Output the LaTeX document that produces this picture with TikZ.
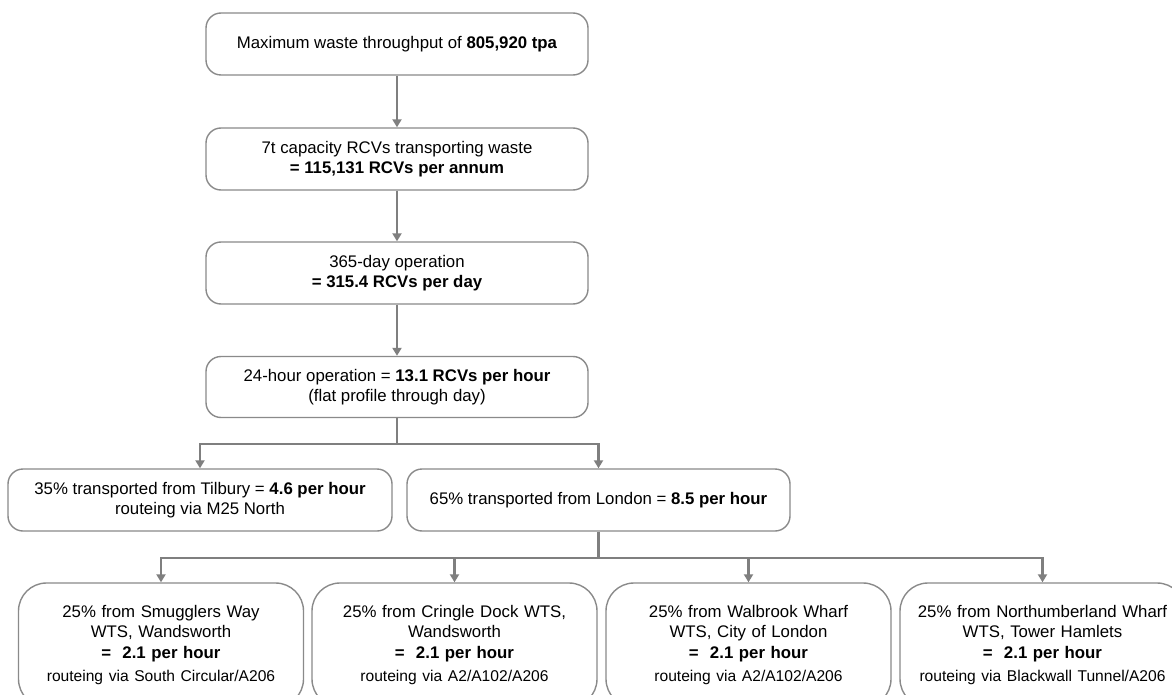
\documentclass[tikz,border=0pt]{standalone}
\usepackage{fontspec}
\setmainfont{Liberation Sans}
\usetikzlibrary{arrows.meta}
\definecolor{linegray}{HTML}{7F7F7F}
\definecolor{boxgray}{HTML}{8A8A8A}
\newcommand{\lastline}{\fontsize{15.6}{19}\selectfont}
\begin{document}
\begin{tikzpicture}[x=1pt,y=-1pt,
  every node/.style={font=\fontsize{16.8}{20.5}\selectfont},
  topbox/.style={draw=boxgray,line width=1.4pt,rounded corners=15pt,align=center,inner sep=0pt},
  botbox/.style={draw=boxgray,line width=1.4pt,rounded corners=28pt,align=center,inner sep=0pt,
    minimum width=285pt,minimum height=124pt,text width=280pt},
  conn/.style={draw=linegray,line width=2.5pt},
  arr/.style={conn,-{Triangle[length=8pt,width=9pt]}}]
\useasboundingbox[fill=white] (0,0) rectangle (1172,695);

\node[topbox,minimum width=382pt,minimum height=62pt] (b1) at (397,44)
  {Maximum waste throughput of \textbf{805,920 tpa}};
\node[topbox,minimum width=382pt,minimum height=62pt] (b2) at (397,159)
  {7t capacity RCVs transporting waste\\\textbf{= 115,131 RCVs per annum}};
\node[topbox,minimum width=382pt,minimum height=62pt] (b3) at (397,273)
  {365-day operation\\\textbf{= 315.4 RCVs per day}};
\node[topbox,minimum width=382pt,minimum height=61pt] (b4) at (397,387)
  {24-hour operation = \textbf{13.1 RCVs per hour}\\(flat profile through day)};

\node[topbox,minimum width=384pt,minimum height=62pt] (til) at (200,500)
  {35\% transported from Tilbury = \textbf{4.6 per hour}\\routeing via M25 North};
\node[topbox,minimum width=383pt,minimum height=62pt] (lon) at (598.5,500)
  {65\% transported from London = \textbf{8.5 per hour}};

\node[botbox] (w1) at (161,645)
  {25\% from Smugglers Way\\WTS, Wandsworth\\\textbf{=\ \ 2.1 per hour}\\[3pt]{\lastline routeing via South Circular/A206}};
\node[botbox] (w2) at (454.5,645)
  {25\% from Cringle Dock WTS,\\Wandsworth\\\textbf{=\ \ 2.1 per hour}\\[3pt]{\lastline routeing via A2/A102/A206}};
\node[botbox] (w3) at (748.5,645)
  {25\% from Walbrook Wharf\\WTS, City of London\\\textbf{=\ \ 2.1 per hour}\\[3pt]{\lastline routeing via A2/A102/A206}};
\node[botbox] (w4) at (1042.5,645)
  {25\% from Northumberland Wharf\\WTS, Tower Hamlets\\\textbf{=\ \ 2.1 per hour}\\[3pt]{\lastline routeing via Blackwall Tunnel/A206}};

\draw[arr] (b1) -- (b2);
\draw[arr] (b2) -- (b3);
\draw[arr] (b3) -- (b4);

\coordinate (j1) at (397,444);
\draw[conn] (b4.south) -- (j1);
\draw[arr] (j1) -| (til.north);
\draw[arr] (j1) -| (lon.north);

\coordinate (j2) at (598.5,558);
\draw[conn] (lon.south) -- (j2);
\draw[arr] (j2) -| (w1.north);
\draw[arr] (j2) -| (w2.north);
\draw[arr] (j2) -| (w3.north);
\draw[arr] (j2) -| (w4.north);
\end{tikzpicture}
\end{document}
